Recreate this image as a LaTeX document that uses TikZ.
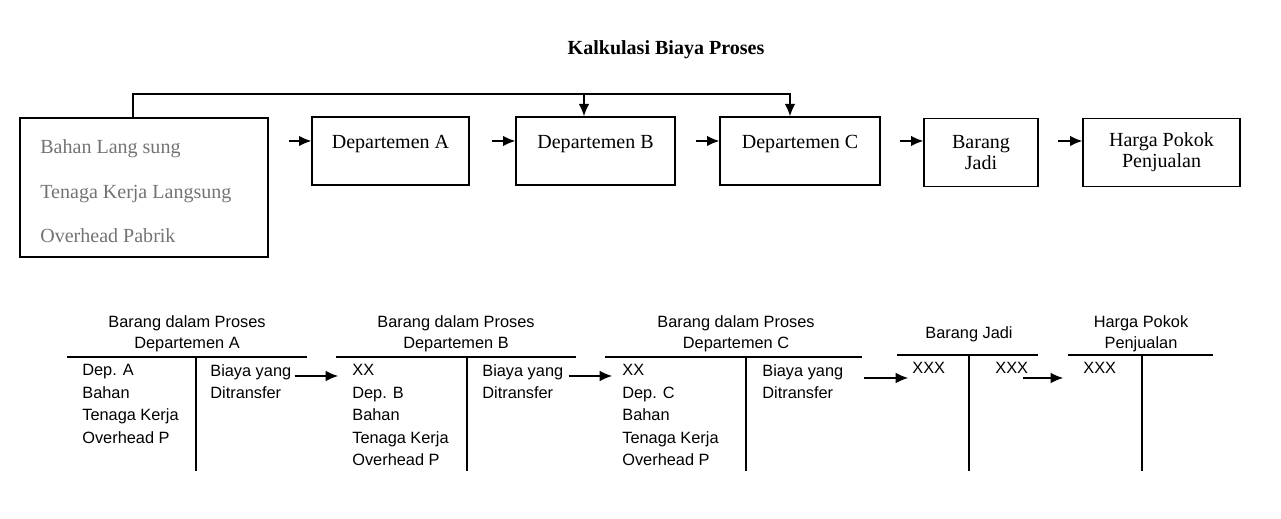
\documentclass[tikz,border=0pt]{standalone}
\usepackage{fontspec}
\setmainfont{Liberation Serif}
\setsansfont{Liberation Sans}
\usetikzlibrary{arrows.meta}
\tikzset{
  box/.style={draw,thick,minimum height=1.36cm,align=center,font=\fontsize{11.4}{12}\selectfont},
  onebox/.style={box,text height=8pt,text depth=11.4pt},
  item/.style={font=\sffamily\fontsize{9.3}{12.8}\selectfont,align=left,inner sep=0pt,anchor=north west},
  head/.style={font=\sffamily\fontsize{9.3}{11.9}\selectfont,align=center,inner sep=0pt},
}
\begin{document}
\begin{tikzpicture}[x=0.02cm,y=-0.02cm,>={Latex[length=7pt,width=6pt]}]
\useasboundingbox (0,0) rectangle (1281,519);
\node[font=\bfseries\fontsize{11.4}{12}\selectfont] (title) at (666,50) {Kalkulasi Biaya Proses};
\node[draw,thick,minimum width=4.96cm,minimum height=2.78cm] (input) at (144,187.5) {};
\node[anchor=north west,inner sep=0pt,align=left,text=black!55,font=\fontsize{11.4}{25.5}\selectfont]
  (inputtext) at (40,139) {Bahan Lang sung\\Tenaga Kerja Langsung\\Overhead Pabrik};
\node[onebox,minimum width=3.14cm] (depA) at (390.5,151) {Departemen A};
\node[onebox,minimum width=3.18cm] (depB) at (595.5,151) {Departemen B};
\node[onebox,minimum width=3.2cm] (depC) at (800,151) {Departemen C};
\node[box,minimum width=2.28cm] (jadi) at (981,152.5) {Barang\\Jadi};
\node[box,minimum width=3.14cm] (hpp) at (1161.5,152.5) {Harga Pokok\\Penjualan};
\coordinate (bus) at (133,94);
\coordinate (busB) at (584,94);
\coordinate (busC) at (790,94);
\draw[thick,->] (input.north -| bus) |- (busC) -- (busC |- depC.north);
\draw[thick,->] (busB) -- (busB |- depB.north);
\draw[thick,->] ([shift={(-22,-10)}]depA.west) -- ([shift={(0,-10)}]depA.west);
\draw[thick,->] ([shift={(-23,-10)}]depB.west) -- ([shift={(0,-10)}]depB.west);
\draw[thick,->] ([shift={(-23,-10)}]depC.west) -- ([shift={(0,-10)}]depC.west);
\draw[thick,->] ([shift={(-23,-11.5)}]jadi.west) -- ([shift={(0,-11.5)}]jadi.west);
\draw[thick,->] ([shift={(-24,-11.5)}]hpp.west) -- ([shift={(0,-11.5)}]hpp.west);
\node[head] (tA) at (187,334) {Barang dalam Proses\\Departemen A};
\node[head] (tB) at (456,334) {Barang dalam Proses\\Departemen B};
\node[head] (tC) at (736,334) {Barang dalam Proses\\Departemen C};
\node[head] (tJ) at (969,334) {Barang Jadi};
\node[head] (tH) at (1141,334) {Harga Pokok\\Penjualan};
\draw[semithick] (67,357) -- (307,357) (196,357) -- (196,471);
\draw[semithick] (336,357) -- (576,357) (467,357) -- (467,471);
\draw[semithick] (605,357) -- (862,357) (746,357) -- (746,471);
\draw[semithick] (897,355) -- (1038,355) (969,355) -- (969,471);
\draw[semithick] (1068,355) -- (1213,355) (1142,355) -- (1142,471);
\node[item] (lA) at (82,364) {Dep. A\\Bahan\\Tenaga Kerja\\Overhead P};
\node[item] (rA) at (210,364) {Biaya yang\\Ditransfer};
\node[item] (lB) at (352,364) {XX\\Dep. B\\Bahan\\Tenaga Kerja\\Overhead P};
\node[item] (rB) at (482,364) {Biaya yang\\Ditransfer};
\node[item] (lC) at (622,364) {XX\\Dep. C\\Bahan\\Tenaga Kerja\\Overhead P};
\node[item] (rC) at (762,364) {Biaya yang\\Ditransfer};
\node[item] (jL) at (912,362) {XXX};
\node[item] (jR) at (995,362) {XXX};
\node[item] (hL) at (1083,362) {XXX};
\draw[semithick,->] ([shift={(3,12)}]rA.north east) -- ([shift={(-14,12)}]lB.north west);
\draw[semithick,->] ([shift={(5,12)}]rB.north east) -- ([shift={(-10,12)}]lC.north west);
\draw[semithick,->] ([shift={(20,14)}]rC.north east) -- ([shift={(-4,16)}]jL.north west);
\draw[semithick,->] ([shift={(-5,16)}]jR.north east) -- ([shift={(-20,16)}]hL.north west);
\end{tikzpicture}
\end{document}
